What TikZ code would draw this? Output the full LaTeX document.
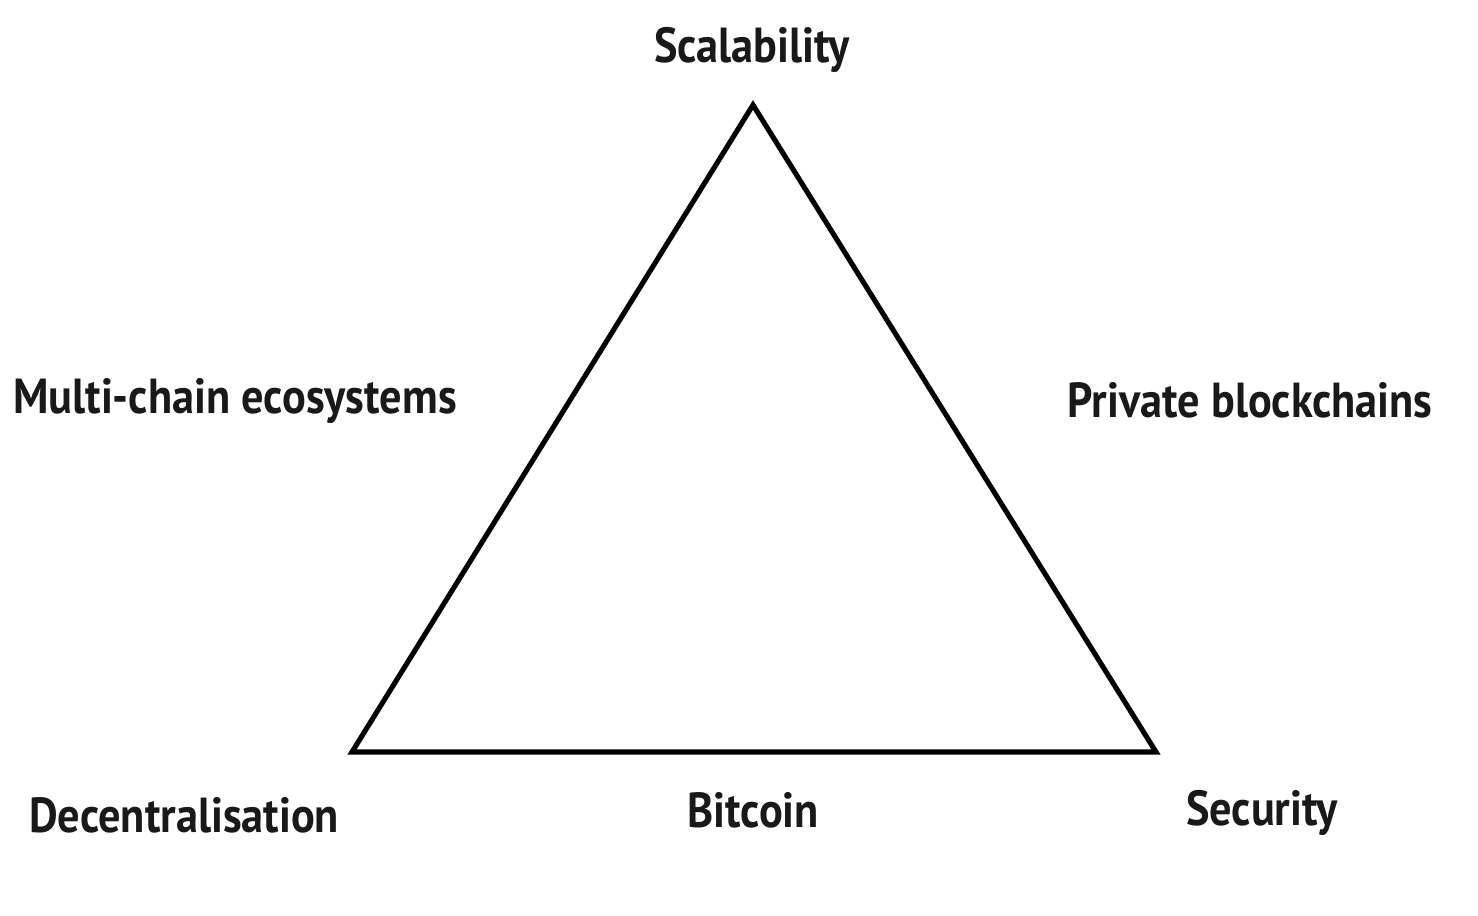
\documentclass[tikz,border=0pt]{standalone}
\usepackage{fontspec}
\setmainfont{PT Sans}[FakeStretch=0.9]
\usepackage{tikz}

\tikzset{
    corner/.style={font=\bfseries\fontsize{14}{16}\selectfont, text=black!90, inner sep=0pt},
}

\begin{document}
\begin{tikzpicture}[x=0.01cm, y=-0.01cm]
    \useasboundingbox (0,0) rectangle (1478,916);

    \coordinate (top) at (753,105);
    \coordinate (left) at (352,752);
    \coordinate (right) at (1156,752);
    \draw[line width=1.45pt, miter limit=10] (top) -- (right) -- (left) -- cycle;

    \node[corner] (scal) at (752,50) {Scalability};
    \node[corner] (multi) at (235,401) {Multi-chain ecosystems};
    \node[corner] (priv) at (1250,400) {Private blockchains};
    \node[corner] (dec) at (184,815) {Decentralisation};
    \node[corner] (btc) at (753,810) {Bitcoin};
    \node[corner] (sec) at (1262,813) {Security};

\end{tikzpicture}
\end{document}
